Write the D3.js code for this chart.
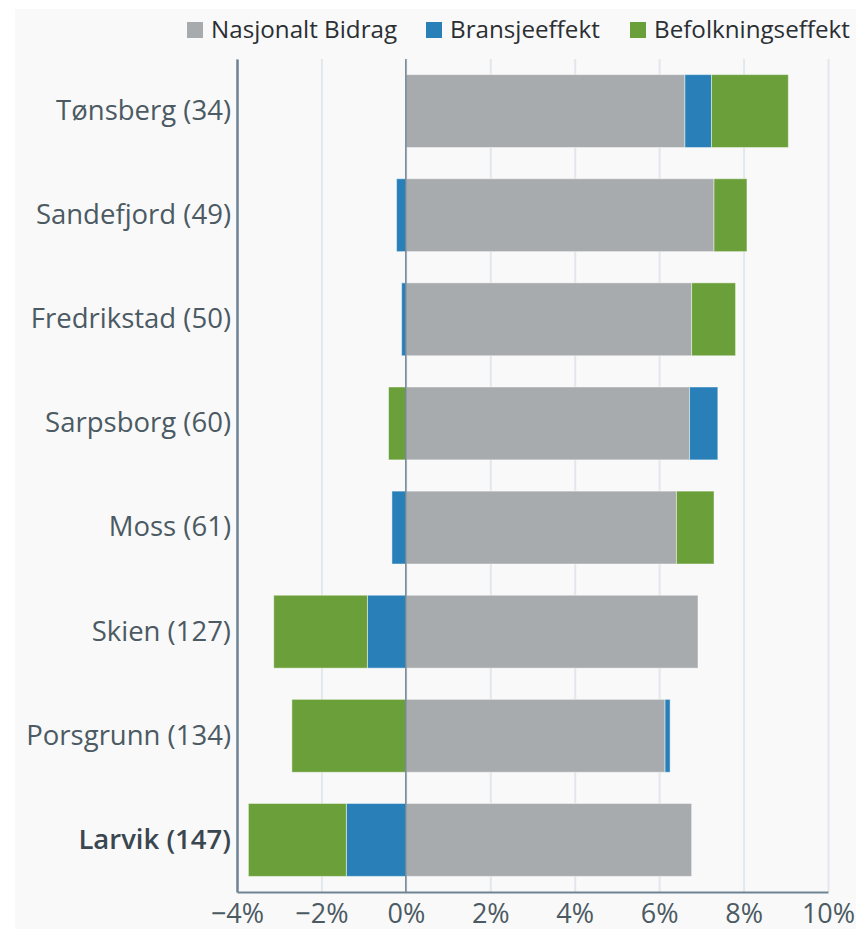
<!DOCTYPE html>
<html>
<head>
<meta charset="utf-8">
<script src="https://cdn.jsdelivr.net/npm/d3@7/dist/d3.min.js"></script>
<style>
  html, body { margin: 0; padding: 0; background: #ffffff; }
  svg { display: block; font-family: "Open Sans", "Noto Sans", sans-serif; }
</style>
</head>
<body>
<svg id="chart" width="856" height="929"></svg>
<script>
// Vekstbidrag per by (rangering i parentes), prosent
const categories = ["Tønsberg (34)", "Sandefjord (49)", "Fredrikstad (50)", "Sarpsborg (60)",
                    "Moss (61)", "Skien (127)", "Porsgrunn (134)", "Larvik (147)"];
const nasjonaltBidrag   = [6.61, 7.30, 6.77, 6.72, 6.41, 6.92, 6.14, 6.77];
const bransjeeffekt     = [0.63, -0.22, -0.10, 0.67, -0.33, -0.91, 0.12, -1.41];
const befolkningseffekt = [1.82, 0.78, 1.04, -0.41, 0.89, -2.22, -2.70, -2.32];
const seriesNames = ["Nasjonalt Bidrag", "Bransjeeffekt", "Befolkningseffekt"];
const seriesColors = ["#a7abae", "#2980b9", "#6a9f3a"];
const xTicks = [-4, -2, 0, 2, 4, 6, 8, 10];
const highlighted = "Larvik (147)";

const rows = categories.map((c, i) => ({
  cat: c,
  [seriesNames[0]]: nasjonaltBidrag[i],
  [seriesNames[1]]: bransjeeffekt[i],
  [seriesNames[2]]: befolkningseffekt[i]
}));

const svg = d3.select("#chart");
const W = 856, H = 929;
const margin = { left: 237, right: 28, top: 59, bottom: 37 };
const x0 = margin.left, x1 = W - margin.right;
const y0 = margin.top, y1 = H - margin.bottom;

// panel background
svg.append("rect").attr("x", 15).attr("y", 9).attr("width", W - 15).attr("height", H - 9)
  .attr("fill", "#f9f9f9");

const x = d3.scaleLinear().domain([-4, 10]).range([x0, x1]);
const y = d3.scaleBand().domain(categories).range([y0, y1]).paddingInner(0.3).paddingOuter(0.15);
const color = d3.scaleOrdinal().domain(seriesNames).range(seriesColors);

// gridlines
svg.append("g")
  .attr("transform", `translate(0,${y1})`)
  .call(d3.axisBottom(x).tickValues(xTicks).tickSize(-(y1 - y0)).tickFormat(""))
  .call(g => g.select(".domain").remove())
  .call(g => g.selectAll(".tick line").attr("stroke", "#e3e7eb").attr("stroke-width", 2));

// stacked bars, negative parts extend left of zero
const stack = d3.stack().keys(seriesNames).offset(d3.stackOffsetDiverging);
const layers = stack(rows);

svg.append("g").selectAll("g").data(layers).join("g")
  .attr("fill", d => color(d.key))
  .selectAll("rect").data(d => d).join("rect")
  .attr("x", d => x(Math.min(d[0], d[1])))
  .attr("width", d => Math.abs(x(d[1]) - x(d[0])))
  .attr("y", d => y(d.data.cat))
  .attr("height", y.bandwidth())
  .attr("stroke", "#ffffff").attr("stroke-opacity", 0.45).attr("stroke-width", 1);

// zero line
svg.append("line")
  .attr("x1", x(0)).attr("x2", x(0)).attr("y1", y0).attr("y2", y1)
  .attr("stroke", "#6f8493").attr("stroke-width", 1.5);

// x axis
svg.append("g")
  .attr("transform", `translate(0,${y1})`)
  .call(d3.axisBottom(x).tickValues(xTicks).tickSize(0).tickPadding(12)
    .tickFormat(d => (d < 0 ? "\u2212" + Math.abs(d) : d) + "%"))
  .call(g => g.select(".domain").attr("stroke", "#6f8493").attr("stroke-width", 2))
  .call(g => g.selectAll("text").attr("font-size", 27).attr("fill", "#4b5a63")
    .attr("font-family", "'Open Sans', sans-serif"));

// y axis
svg.append("g")
  .attr("transform", `translate(${x0},0)`)
  .call(d3.axisLeft(y).tickSize(0).tickPadding(6))
  .call(g => g.select(".domain").attr("stroke", "#6f8493").attr("stroke-width", 2.5))
  .call(g => g.selectAll("text").attr("font-size", 27.5)
    .attr("font-family", "'Open Sans', sans-serif")
    .attr("font-weight", d => d === highlighted ? 600 : 400)
    .attr("fill", d => d === highlighted ? "#3a4750" : "#4b5a63"));

// legend
const legendItems = [
  { name: seriesNames[0], sx: 187, tx: 211 },
  { name: seriesNames[1], sx: 426, tx: 450 },
  { name: seriesNames[2], sx: 630, tx: 654 }
];
const lg = svg.append("g");
legendItems.forEach(it => {
  lg.append("rect").attr("x", it.sx).attr("y", 22).attr("width", 16).attr("height", 16)
    .attr("fill", color(it.name));
  lg.append("text").attr("x", it.tx).attr("y", 38).text(it.name)
    .attr("font-size", 24.2).attr("fill", "#2b2f33");
});
</script>
</body>
</html>
